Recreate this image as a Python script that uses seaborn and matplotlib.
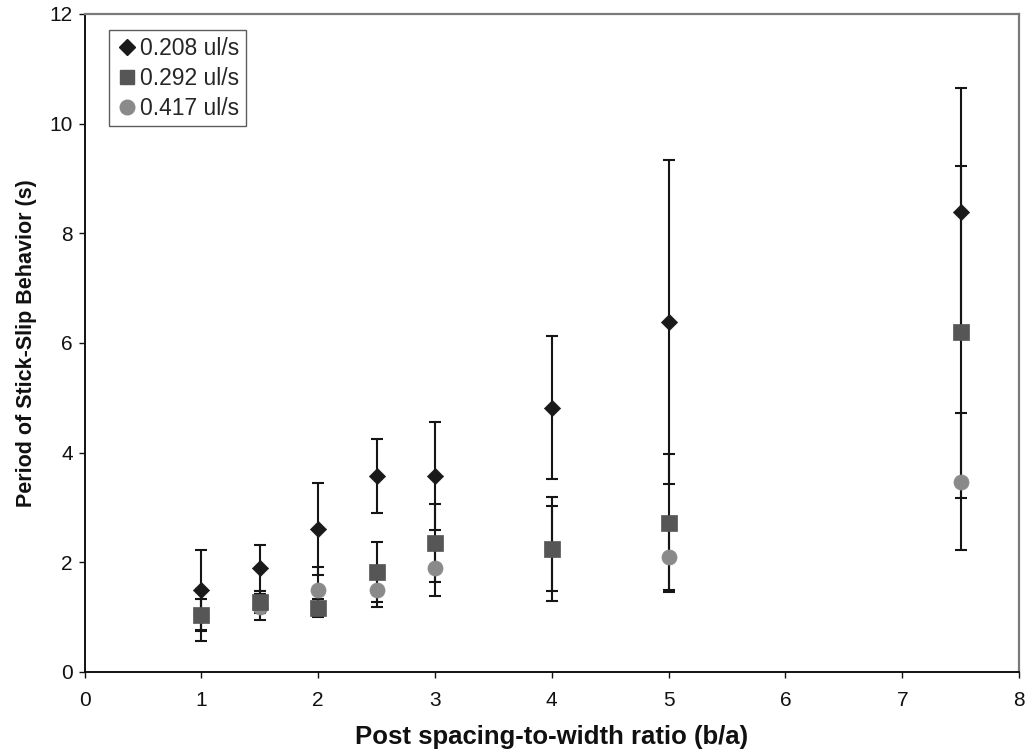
import matplotlib
matplotlib.use("Agg")
import matplotlib.pyplot as plt
import seaborn as sns
import pandas as pd
from matplotlib.lines import Line2D

# ---- data ----
ratio = [1, 1.5, 2, 2.5, 3, 4, 5, 7.5]
labels = ["0.208 ul/s", "0.292 ul/s", "0.417 ul/s"]
period_208 = [1.50, 1.90, 2.61, 3.57, 3.57, 4.82, 6.38, 8.38]
err_208 = [0.73, 0.42, 0.84, 0.67, 0.98, 1.30, 2.95, 2.27]
period_292 = [1.04, 1.28, 1.17, 1.82, 2.36, 2.25, 2.72, 6.20]
err_292 = [0.30, 0.20, 0.16, 0.55, 0.71, 0.95, 1.26, 3.03]
period_417 = [1.04, 1.19, 1.50, 1.50, 1.89, 2.25, 2.09, 3.47]
err_417 = [0.48, 0.24, 0.41, 0.32, 0.50, 0.78, 0.60, 1.25]
xticks = [0, 1, 2, 3, 4, 5, 6, 7, 8]
yticks = [0, 2, 4, 6, 8, 10, 12]

sns.set_theme(style="white")
plt.rcParams["font.family"] = ["Liberation Sans", "DejaVu Sans"]

fig = plt.figure(figsize=(10.26, 7.52), dpi=100)
ax = fig.add_axes([0.0824, 0.1064, 0.9108, 0.875])

series = [
    (labels[2], period_417, err_417, 1),
    (labels[1], period_292, err_292, 2),
    (labels[0], period_208, err_208, 3),
]

frames = []
for lab, vals, errs, z in series:
    ax.errorbar(ratio, vals, yerr=errs, fmt="none", ecolor="#151515",
                elinewidth=1.5, capsize=4.2, capthick=1.5, zorder=z)
    frames.append(pd.DataFrame({"ratio": ratio, "period": vals, "series": lab}))

df = pd.concat(frames, ignore_index=True)
markers = {labels[0]: "D", labels[1]: "s", labels[2]: "o"}
palette = {labels[0]: "#1a1a1a", labels[1]: "#565656", labels[2]: "#8a8a8a"}
sizes = {labels[0]: 68, labels[1]: 125, labels[2]: 118}
for lab in [labels[2], labels[1], labels[0]]:
    sub = df[df["series"] == lab]
    sns.scatterplot(data=sub, x="ratio", y="period", marker=markers[lab],
                    color=palette[lab], s=sizes[lab], edgecolor=palette[lab],
                    linewidth=0.5, ax=ax, zorder=10, legend=False)

ax.set_xlim(0, 8)
ax.set_ylim(0, 12)
ax.set_xticks(xticks)
ax.set_yticks(yticks)
ax.tick_params(axis="both", direction="out", length=4.5, width=1, colors="#111111",
               labelsize=15, bottom=True, left=True)
ax.tick_params(axis="x", pad=9)
ax.tick_params(axis="y", pad=4)

for side in ["left", "bottom"]:
    ax.spines[side].set_color("#111111")
    ax.spines[side].set_linewidth(1.4)
for side in ["top", "right"]:
    ax.spines[side].set_color("#7a7a7a")
    ax.spines[side].set_linewidth(1.6)

ax.set_xlabel("Post spacing-to-width ratio (b/a)", fontsize=18.5, fontweight="bold",
              labelpad=11, color="#111111")
ax.set_ylabel("Period of Stick-Slip Behavior (s)", fontsize=15.5, fontweight="bold",
              labelpad=9, color="#111111")

handles = [
    Line2D([], [], linestyle="none", marker="D", color="#1a1a1a", markersize=8, label=labels[0]),
    Line2D([], [], linestyle="none", marker="s", color="#565656", markersize=10, label=labels[1]),
    Line2D([], [], linestyle="none", marker="o", color="#8a8a8a", markersize=10.5, label=labels[2]),
]
leg = ax.legend(handles=handles, loc="upper left", bbox_to_anchor=(0.0262, 0.9757),
                fontsize=16.5, frameon=True, fancybox=False, handletextpad=0.05,
                handlelength=1.0, borderpad=0.3, labelspacing=0.3, borderaxespad=0)
leg.get_frame().set_edgecolor("#333333")
leg.get_frame().set_linewidth(1.0)

fig.savefig("out.png", dpi=100)
